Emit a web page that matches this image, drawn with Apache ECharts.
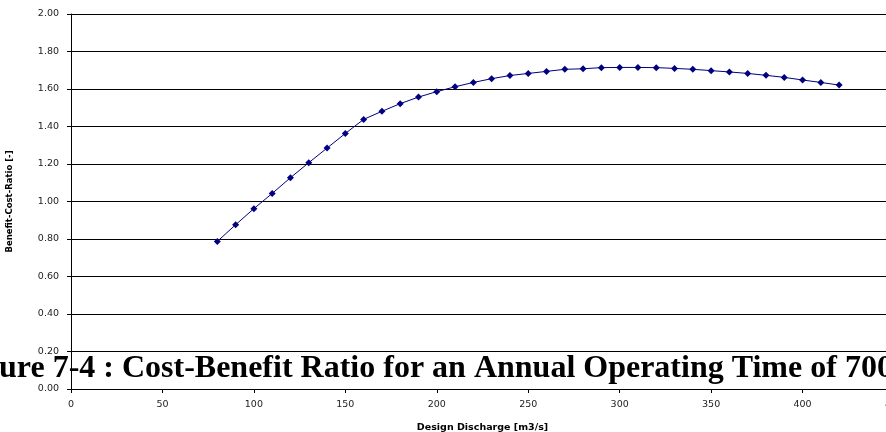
<!DOCTYPE html>
<html>
<head>
<meta charset="utf-8">
<script src="https://cdn.jsdelivr.net/npm/echarts@6/dist/echarts.min.js"></script>
<style>
html,body{margin:0;padding:0;background:#fff;}
#chart{width:886px;height:432px;}
</style>
</head>
<body>
<div id="chart"></div>
<script>
var discharge = [80,90,100,110,120,130,140,150,160,170,180,190,200,210,220,230,240,250,260,270,280,290,300,310,320,330,340,350,360,370,380,390,400,410,420];
var bcRatio = [0.787,0.876,0.962,1.043,1.127,1.207,1.285,1.363,1.438,1.481,1.522,1.557,1.586,1.612,1.635,1.655,1.672,1.683,1.694,1.705,1.708,1.714,1.715,1.715,1.714,1.710,1.705,1.698,1.691,1.683,1.673,1.662,1.648,1.635,1.621];
var xAxisTitle = 'Design Discharge [m3/s]';
var yAxisTitle = 'Benefit-Cost-Ratio [-]';
var figureCaption = 'ure 7-4 : Cost-Benefit Ratio for an Annual Operating Time of 700';

var points = discharge.map(function (x, i) { return [x, bcRatio[i]]; });
var chart = echarts.init(document.getElementById('chart'));
chart.setOption({
  animation: false,
  backgroundColor: '#ffffff',
  grid: { left: 71, top: 14, right: -8, bottom: 43, containLabel: false, outerBoundsMode: 'none' },
  xAxis: {
    type: 'value', min: 0, max: 450, interval: 50,
    name: xAxisTitle, nameLocation: 'middle', nameGap: 34,
    nameTextStyle: { fontFamily: 'DejaVu Sans', fontWeight: 'bold', fontSize: 9.5, color: '#000' },
    axisLine: { show: true, onZero: false, lineStyle: { color: '#000', width: 1 } },
    axisTick: { show: true, length: 4, lineStyle: { color: '#000' } },
    axisLabel: { margin: 11, fontFamily: 'DejaVu Sans', fontSize: 9.5, color: '#222', hideOverlap: false },
    splitLine: { show: false }
  },
  yAxis: {
    type: 'value', min: 0, max: 2, interval: 0.2,
    name: yAxisTitle, nameLocation: 'middle', nameGap: 57, nameRotate: 90,
    nameTextStyle: { fontFamily: 'DejaVu Sans', fontWeight: 'bold', fontSize: 8.5, color: '#000' },
    axisLine: { show: true, lineStyle: { color: '#000', width: 1 } },
    axisTick: { show: true, length: 4, lineStyle: { color: '#000' } },
    axisLabel: { margin: 12, fontFamily: 'DejaVu Sans', fontSize: 9.5, color: '#222',
      formatter: function (v) { return v.toFixed(2); } },
    splitLine: { show: true, lineStyle: { color: '#000', width: 1 } }
  },
  series: [{
    type: 'line', data: points,
    symbol: 'diamond', symbolSize: 7,
    lineStyle: { color: '#000080', width: 1 },
    itemStyle: { color: '#000080' }
  }],
  graphic: [{
    type: 'text', left: -1, top: 353, z: 100,
    style: { text: figureCaption, fill: '#000', font: 'bold 32px "Liberation Serif"' }
  }]
});
</script>
</body>
</html>
